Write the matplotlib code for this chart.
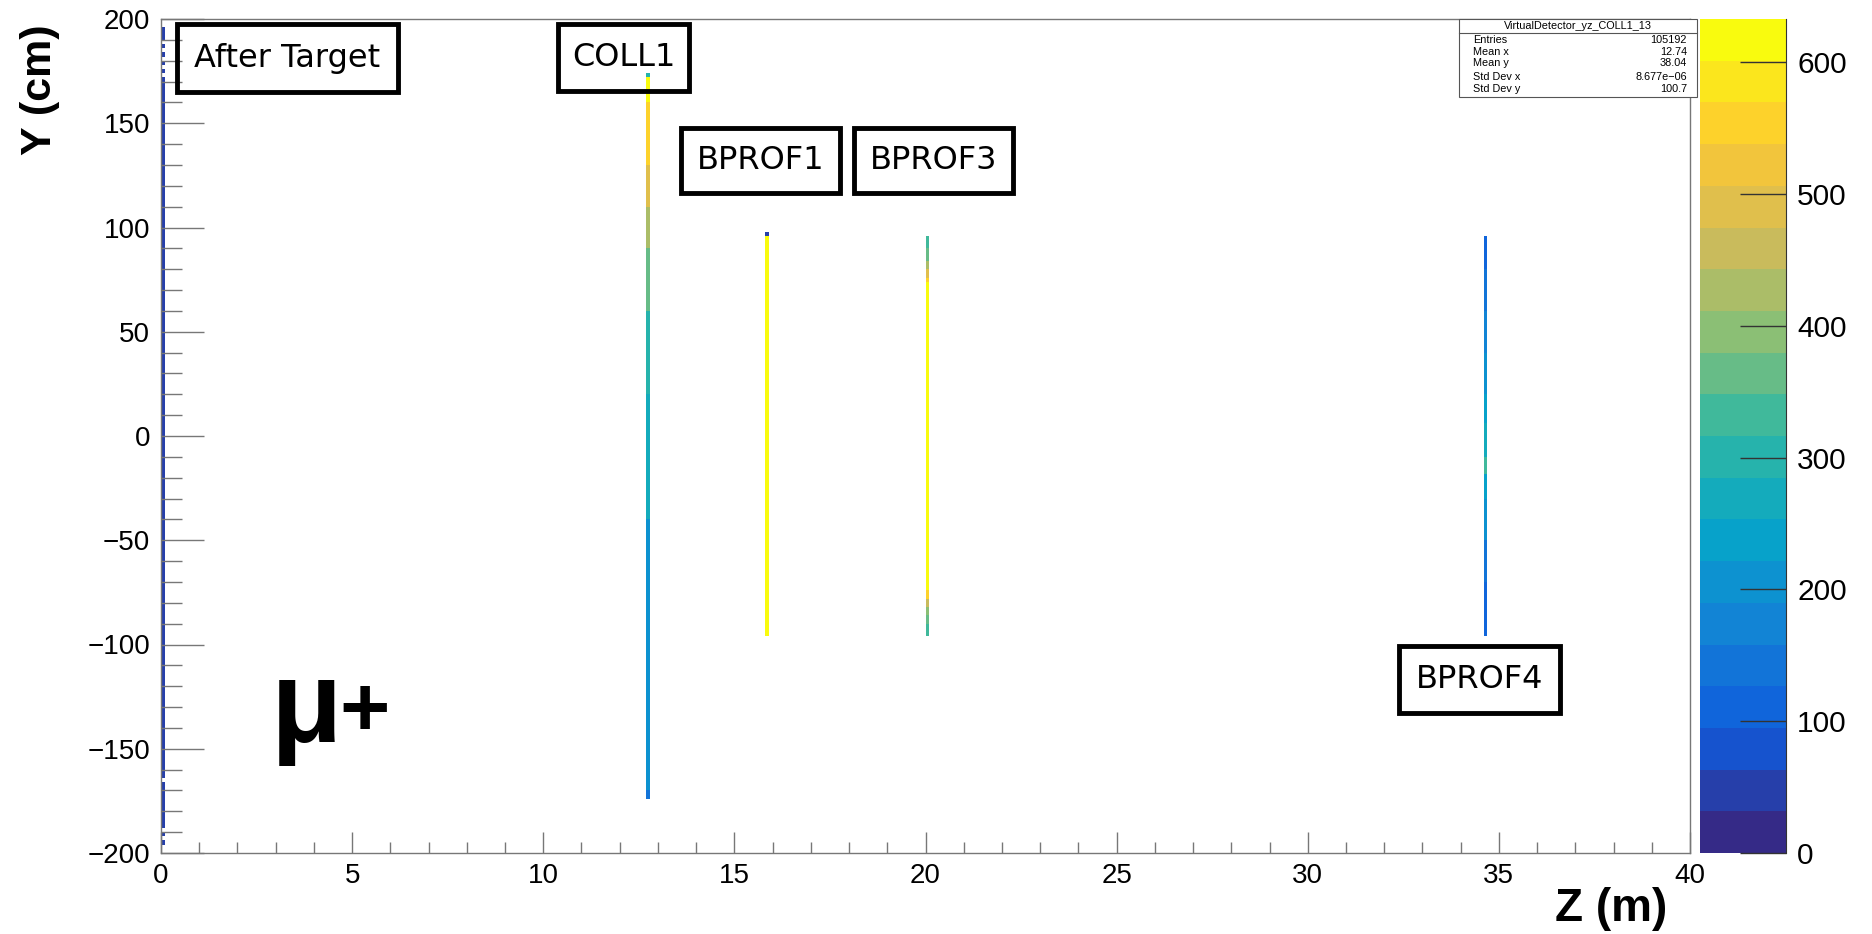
import matplotlib
matplotlib.use("Agg")
import matplotlib.pyplot as plt
import numpy as np
from matplotlib.colors import LinearSegmentedColormap, ListedColormap, BoundaryNorm
from matplotlib.patches import Rectangle

# histogram binning (Z in m, Y in cm)
z_edges = np.arange(0, 40.0001, 0.1)
y_edges = np.arange(-200, 201, 2)

# detectors: z position (m) and (y_low, y_high, counts) segments
det_after_target_z = 0.05
det_after_target = [(-196, -194, 45), (-192, -190, 45), (-188, -166, 45), (-164, 172, 45),
                    (174, 176, 45), (178, 180, 45), (182, 184, 45), (186, 188, 45),
                    (190, 196, 45)]

det_coll1_z = 12.75
det_coll1 = [(-174, -170, 150), (-170, -120, 200), (-120, -40, 220), (-40, 20, 260),
             (20, 60, 300), (60, 90, 350), (90, 110, 420), (110, 130, 500),
             (130, 160, 560), (160, 172, 620), (172, 174, 300)]

det_bprof1_z = 15.85
det_bprof1 = [(-96, 0, 630), (0, 20, 633), (20, 96, 630), (96, 98, 50)]

det_bprof3_z = 20.05
det_bprof3 = [(-96, -90, 320), (-90, -86, 360), (-86, -82, 400), (-82, -78, 460),
              (-78, -74, 540), (-74, 74, 630), (74, 76, 560), (76, 80, 500),
              (80, 84, 420), (84, 90, 360), (90, 96, 320)]

det_bprof4_z = 34.65
det_bprof4 = [(-96, -70, 120), (-70, -50, 150), (-50, -30, 190), (-30, -18, 230),
              (-18, -10, 320), (-10, 6, 280), (6, 20, 250), (20, 40, 200),
              (40, 60, 170), (60, 80, 140), (80, 96, 120)]

cbar_ticks = [0, 100, 200, 300, 400, 500, 600]
n_contours = 20

stats_title = "VirtualDetector_yz_COLL1_13"
stats_rows = [("Entries", "105192"), ("Mean x", "12.74"), ("Mean y", "38.04"),
              ("Std Dev x", "8.677e\u221206"), ("Std Dev y", "100.7")]

# ROOT kBird palette
stops = [0.0, 0.125, 0.25, 0.375, 0.5, 0.625, 0.75, 0.875, 1.0]
red = [0.2082, 0.0592, 0.0780, 0.0232, 0.1802, 0.5301, 0.8186, 0.9956, 0.9764]
green = [0.1664, 0.3599, 0.5041, 0.6419, 0.7178, 0.7492, 0.7328, 0.7862, 0.9832]
blue = [0.5293, 0.8684, 0.8385, 0.7914, 0.6425, 0.4662, 0.3499, 0.1968, 0.0539]
bird = LinearSegmentedColormap.from_list(
    "bird", [(s, (r, g, b)) for s, r, g, b in zip(stops, red, green, blue)])
cmap = ListedColormap([bird(i / (n_contours - 1)) for i in range(n_contours)])

counts = np.zeros((len(y_edges) - 1, len(z_edges) - 1))
for z, segs in [(det_after_target_z, det_after_target), (det_coll1_z, det_coll1),
                (det_bprof1_z, det_bprof1), (det_bprof3_z, det_bprof3),
                (det_bprof4_z, det_bprof4)]:
    zi = np.searchsorted(z_edges, z) - 1
    for lo, hi, val in segs:
        i0 = np.searchsorted(y_edges, lo)
        i1 = np.searchsorted(y_edges, hi)
        counts[i0:i1, zi] = val

zmax = counts.max()
levels = np.linspace(0, zmax, n_contours + 1)
norm = BoundaryNorm(levels, n_contours)

W, H = 1872, 934
fig = plt.figure(figsize=(W / 100, H / 100), dpi=100, facecolor="white")
plt.rcParams["font.family"] = ["Liberation Sans", "DejaVu Sans"]


def fx(x):
    return x / W


def fy(y):
    return 1 - y / H


ax = fig.add_axes([fx(161), fy(853), fx(1690 - 161), (853 - 19) / H])
ax.pcolormesh(z_edges, y_edges, np.ma.masked_equal(counts, 0), cmap=cmap, norm=norm)
ax.set_xlim(0, 40)
ax.set_ylim(-200, 200)
ax.set_xticks(np.arange(0, 41, 5))
ax.set_xticks(np.arange(0, 41, 1), minor=True)
ax.set_yticks(np.arange(-200, 201, 50))
ax.set_yticks(np.arange(-200, 201, 10), minor=True)
ax.tick_params(axis="both", which="both", direction="in", colors="#777777",
               labelcolor="black", labelsize=20, width=1)
ax.tick_params(axis="x", which="major", length=15, pad=7)
ax.tick_params(axis="x", which="minor", length=8)
ax.tick_params(axis="y", which="major", length=31, pad=8)
ax.tick_params(axis="y", which="minor", length=15)
for sp in ax.spines.values():
    sp.set_color("#777777")
    sp.set_linewidth(1)

fig.text(fx(1667), fy(909), "Z (m)", fontsize=33, fontweight="bold",
         ha="right", va="center")
fig.text(fx(40), fy(24), "Y (cm)", fontsize=31, fontweight="bold",
         rotation=90, ha="center", va="top")

# colour scale
cax = fig.add_axes([fx(1700), fy(853), fx(86), (853 - 19) / H])
cax.pcolormesh([0, 1], levels, np.array(levels[:-1] + 1).reshape(-1, 1),
               cmap=cmap, norm=norm)
cax.set_xlim(0, 1)
cax.set_ylim(0, zmax)
cax.set_xticks([])
cax.yaxis.tick_right()
cax.set_yticks(cbar_ticks)
cax.tick_params(axis="y", direction="in", length=33, width=1, colors="#333333",
                labelcolor="black", labelsize=21.5, pad=8)
for name in ["left", "top", "bottom"]:
    cax.spines[name].set_visible(False)
cax.spines["right"].set_color("#333333")

# statistics box
fig.patches.append(Rectangle((fx(1459), fy(97)), fx(1697 - 1459), (97 - 19) / H,
                             transform=fig.transFigure, facecolor="white",
                             edgecolor="#555555", lw=0.8, zorder=5))
fig.lines.append(plt.Line2D([fx(1459), fx(1697)], [fy(33), fy(33)],
                            transform=fig.transFigure, color="#555555", lw=0.8, zorder=6))
fig.text(fx(1578), fy(26), stats_title, fontsize=7.8, ha="center", va="center", zorder=7)
for (lab, val), yy in zip(stats_rows, [40, 52, 63, 77, 89]):
    fig.text(fx(1473), fy(yy), lab, fontsize=7.8, ha="left", va="center", zorder=7)
    fig.text(fx(1687), fy(yy), val, fontsize=7.8, ha="right", va="center", zorder=7)

# detector labels
labels = [("After Target", 177, 24, 398, 92), ("COLL1", 558, 24, 689, 91),
          ("BPROF1", 681, 128, 840, 193), ("BPROF3", 854, 128, 1013, 193),
          ("BPROF4", 1399, 646, 1560, 713)]
for txt, x0, y0, x1, y1 in labels:
    fig.patches.append(Rectangle((fx(x0), fy(y1)), fx(x1 - x0), (y1 - y0) / H,
                                 transform=fig.transFigure, facecolor="none",
                                 edgecolor="black", lw=3.5, zorder=5))
    fig.text(fx((x0 + x1) / 2), fy((y0 + y1) / 2), txt, fontsize=23,
             family="DejaVu Sans", ha="center", va="center", zorder=6)

fig.text(fx(271), fy(742), "\u03bc", fontsize=84, fontweight="bold",
         ha="left", va="baseline")
fig.text(fx(339), fy(736), "+", fontsize=62, fontweight="bold",
         ha="left", va="baseline")

fig.savefig("out.png", dpi=100, facecolor="white")
